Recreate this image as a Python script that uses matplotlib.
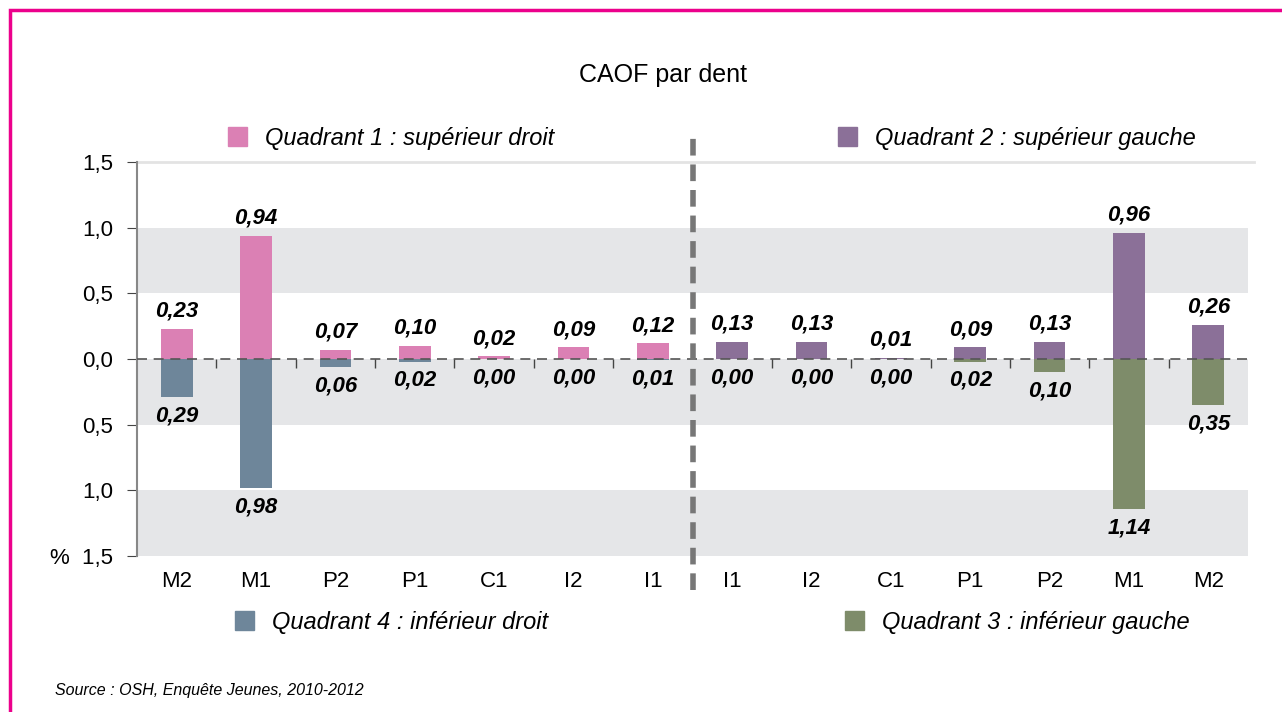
import numpy as np
import matplotlib.pyplot as plt
from matplotlib.patches import Rectangle
from matplotlib.transforms import blended_transform_factory

plt.rcParams['font.family'] = ['Liberation Sans', 'DejaVu Sans']

# data
teeth = ["M2", "M1", "P2", "P1", "C1", "I2", "I1", "I1", "I2", "C1", "P1", "P2", "M1", "M2"]
q1_sup_droit = [0.23, 0.94, 0.07, 0.10, 0.02, 0.09, 0.12]
q2_sup_gauche = [0.13, 0.13, 0.01, 0.09, 0.13, 0.96, 0.26]
q4_inf_droit = [0.29, 0.98, 0.06, 0.02, 0.00, 0.00, 0.01]
q3_inf_gauche = [0.00, 0.00, 0.00, 0.02, 0.10, 1.14, 0.35]
yticks = [1.5, 1.0, 0.5, 0.0, -0.5, -1.0, -1.5]
ytick_labels = ["1,5", "1,0", "0,5", "0,0", "0,5", "1,0", "%  1,5"]

c_q1 = "#DB80B4"
c_q2 = "#8B7098"
c_q3 = "#7E8C6A"
c_q4 = "#6E869A"
band = "#E5E6E8"

fig = plt.figure(figsize=(12.82, 7.12), dpi=100)
ax = fig.add_axes([137/1282, 1 - 556/712, (1248 - 137)/1282, (556 - 162)/712])

x = np.arange(len(teeth))
up = q1_sup_droit + q2_sup_gauche
down = q4_inf_droit + q3_inf_gauche
up_cols = [c_q1]*7 + [c_q2]*7
down_cols = [c_q4]*7 + [c_q3]*7

# grey bands
for lo, hi in [(0.5, 1.0), (-0.5, 0.0), (-1.5, -1.0)]:
    ax.axhspan(lo, hi, color=band, lw=0, zorder=0)
ax.axhline(1.5, color="#E3E3E3", lw=2, zorder=0, xmax=1.005, clip_on=False)

w = 0.4
ax.bar(x, up, width=w, color=up_cols, zorder=2)
ax.bar(x, [-v for v in down], width=w, color=down_cols, zorder=2)

def fmt(v):
    return f"{v:.2f}".replace(".", ",")

for xi, v in zip(x, up):
    ax.annotate(fmt(v), (xi, v), xytext=(0, 5), textcoords="offset points",
                ha="center", va="bottom", fontsize=16, fontweight="bold", fontstyle="italic")
for xi, v in zip(x, down):
    ax.annotate(fmt(v), (xi, -v), xytext=(0, -6), textcoords="offset points",
                ha="center", va="top", fontsize=16, fontweight="bold", fontstyle="italic")

# zero line + small category ticks
ax.axhline(0, color="#555555", lw=1.2, ls=(0, (6, 4)), zorder=3)
bounds = [k + 0.5 for k in range(13) if k != 6]
ax.vlines(bounds, -0.065, 0, color="#444444", lw=1, zorder=3)

# separator between right and left sides
trans = blended_transform_factory(ax.transData, ax.transAxes)
ax.plot([6.5, 6.5], [-0.086, 1.068], transform=trans, color="#777777", lw=4,
        ls=(0, (3, 1.6)), clip_on=False, zorder=4)

ax.set_xlim(-0.5, 13.5)
ax.set_ylim(-1.5, 1.5)
ax.set_yticks(yticks)
ax.set_yticklabels(ytick_labels, fontsize=16)
ax.set_xticks(x)
ax.set_xticklabels(teeth, fontsize=16)
ax.tick_params(axis="x", length=0, pad=11)
ax.tick_params(axis="y", length=7, color="#444444", pad=10)
for s in ["top", "right", "bottom"]:
    ax.spines[s].set_visible(False)
ax.spines["left"].set_color("#888888")
ax.spines["left"].set_linewidth(1.5)

# title and legend entries
fig.text(663/1282, 1 - 75/712, "CAOF par dent", ha="center", va="center", fontsize=18)

def legend_item(px, py, col, label):
    fig.patches.append(Rectangle(((px - 9)/1282, 1 - (py + 9)/712), 19/1282, 19/712,
                                 transform=fig.transFigure, color=col))
    fig.text((px + 28)/1282, 1 - (py + 1)/712, label, ha="left", va="center",
             fontsize=17, fontstyle="italic")

legend_item(237, 137, c_q1, "Quadrant 1 : supérieur droit")
legend_item(847, 137, c_q2, "Quadrant 2 : supérieur gauche")
legend_item(244, 621, c_q4, "Quadrant 4 : inférieur droit")
legend_item(854, 621, c_q3, "Quadrant 3 : inférieur gauche")

fig.text(55/1282, 1 - 690/712, "Source : OSH, Enquête Jeunes, 2010-2012",
         ha="left", va="center", fontsize=11.5, fontstyle="italic")

# pink frame
fig.patches.append(Rectangle((10/1282, -0.1), 1.2, 1.1 - 10/712, transform=fig.transFigure,
                             fill=False, ec="#EC008C", lw=2.5))

fig.savefig("out.png", dpi=100)
